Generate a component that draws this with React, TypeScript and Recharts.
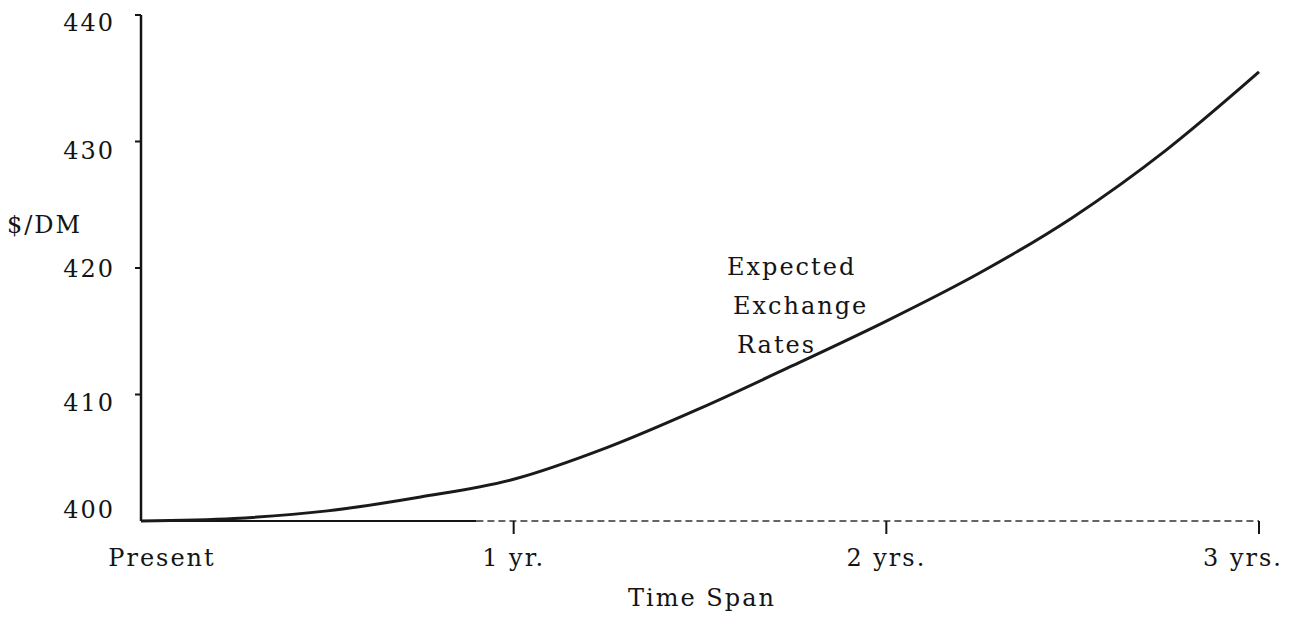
import { LineChart, Line, XAxis, YAxis, ReferenceLine } from "recharts";

// time span in years, expected $/DM rate
const years = [0, 0.25, 0.5, 0.75, 1, 1.25, 1.5, 1.75, 2, 2.25, 2.5, 2.75, 3];
const rates = [400.0, 400.2, 400.8, 401.9, 403.3, 405.8, 408.9, 412.3, 415.8, 419.6, 424.0, 429.3, 435.5];

const xTicks = [0, 1, 2, 3];
const xLabels = ["Present", "1 yr.", "2 yrs.", "3 yrs."];
const yTicks = [400, 410, 420, 430, 440];

const data = years.map((t, i) => ({ t, rate: rates[i] }));

const FONT = "'DejaVu Serif', 'Liberation Serif', serif";
const INK = "#141414";

// small hand-lettered offsets of the labels in the scan
const xLabelShift: Record<number, number> = { 0: 21, 1: 0, 2: 0, 3: -16 };
const yLabelShift: Record<number, number> = { 400: -12, 410: 7, 420: 0, 430: 8, 440: 7 };

function XTick({ x, y, payload }: any) {
  const v = payload.value as number;
  return (
    <g>
      {v > 0 && <line x1={x} x2={x} y1={y} y2={y + 13} stroke={INK} strokeWidth={2} />}
      <text x={x + (xLabelShift[v] ?? 0)} y={y + 45} textAnchor="middle" fontFamily={FONT} fontSize={24} letterSpacing={2} fill={INK}>
        {xLabels[xTicks.indexOf(v)]}
      </text>
    </g>
  );
}

function YTick({ x, y, payload }: any) {
  const v = payload.value as number;
  return (
    <g>
      {v > 400 && <line x1={x - 6} x2={x} y1={y} y2={y} stroke={INK} strokeWidth={2} />}
      <text x={x - 26} y={y + (yLabelShift[v] ?? 0) + 9} textAnchor="end" fontFamily={FONT} fontSize={24} letterSpacing={2} fill={INK}>
        {v}
      </text>
    </g>
  );
}

export default function App() {
  return (
    <div style={{ position: "absolute", left: 0, top: 0, width: 1298, height: 617, background: "#fff" }}>
      <LineChart width={1298} height={617} data={data} margin={{ top: 15, right: 39, left: 0, bottom: 0 }}>
        <XAxis
          dataKey="t"
          type="number"
          domain={[0, 3]}
          ticks={xTicks}
          axisLine={false}
          tickLine={false}
          tickSize={0}
          tickMargin={0}
          height={96}
          tick={<XTick />}
          interval={0}
        />
        <YAxis
          type="number"
          domain={[400, 440]}
          ticks={yTicks}
          axisLine={{ stroke: INK, strokeWidth: 2.5 }}
          tickLine={false}
          tickSize={0}
          tickMargin={0}
          width={141}
          tick={<YTick />}
          interval={0}
        />
        <ReferenceLine segment={[{ x: 0, y: 400 }, { x: 0.9, y: 400 }]} stroke={INK} strokeWidth={2} />
        <ReferenceLine segment={[{ x: 0.9, y: 400 }, { x: 3, y: 400 }]} stroke="#333" strokeWidth={1.5} strokeDasharray="7 4" />
        <Line type="monotone" dataKey="rate" stroke="#1a1a1a" strokeWidth={3} dot={false} isAnimationActive={false} />
      </LineChart>

      <div style={{ position: "absolute", left: 7, top: 211, fontFamily: FONT, fontSize: 24, letterSpacing: 2, lineHeight: "28px", color: INK }}>
        $/DM
      </div>

      <div style={{ position: "absolute", left: 727, top: 248, fontFamily: FONT, fontSize: 24, letterSpacing: 2, lineHeight: "39px", color: INK }}>
        <div>Expected</div>
        <div style={{ paddingLeft: 6 }}>Exchange</div>
        <div style={{ paddingLeft: 10 }}>Rates</div>
      </div>

      <div style={{ position: "absolute", left: 702, top: 584, transform: "translateX(-50%)", fontFamily: FONT, fontSize: 24, letterSpacing: 2, lineHeight: "28px", color: INK, whiteSpace: "nowrap" }}>
        Time Span
      </div>
    </div>
  );
}
